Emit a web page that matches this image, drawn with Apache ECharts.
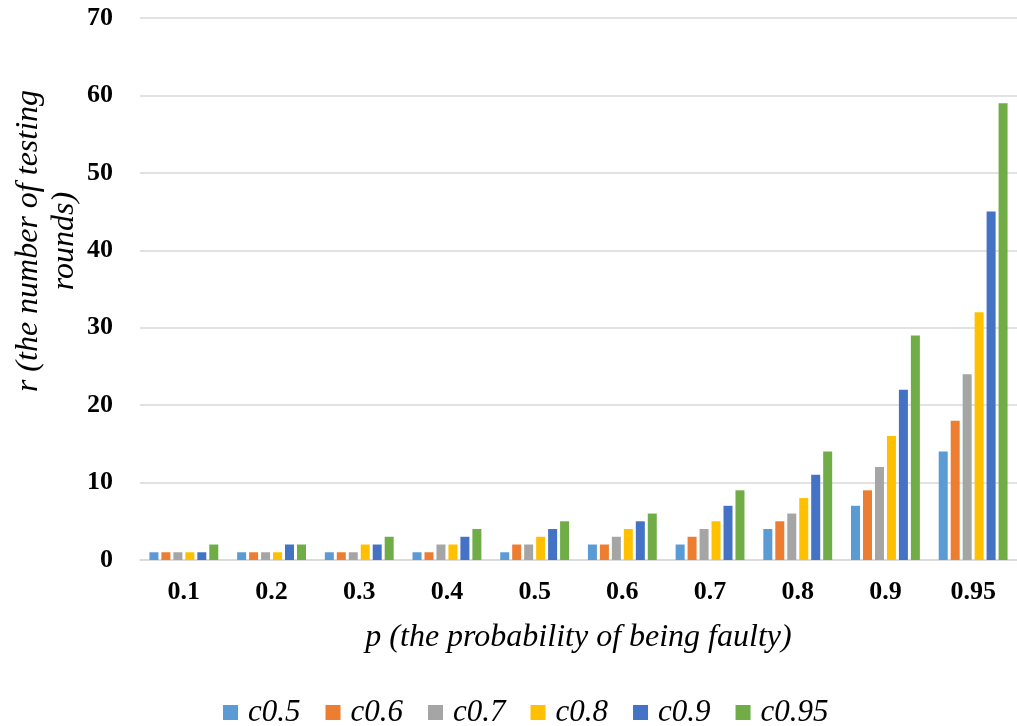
<!DOCTYPE html>
<html>
<head>
<meta charset="utf-8">
<script src="https://cdn.jsdelivr.net/npm/echarts@6/dist/echarts.min.js"></script>
<style>
  html, body { margin: 0; padding: 0; background: #ffffff; }
  #chart { width: 1017px; height: 726px; }
</style>
</head>
<body>
<div id="chart"></div>
<script>
// Probability of a node being faulty (x categories)
const categories = ['0.1', '0.2', '0.3', '0.4', '0.5', '0.6', '0.7', '0.8', '0.9', '0.95'];

// Required testing rounds for each confidence level
const c05  = [1, 1, 1, 1, 1, 2, 2, 4, 7, 14];
const c06  = [1, 1, 1, 1, 2, 2, 3, 5, 9, 18];
const c07  = [1, 1, 1, 2, 2, 3, 4, 6, 12, 24];
const c08  = [1, 1, 2, 2, 3, 4, 5, 8, 16, 32];
const c09  = [1, 2, 2, 3, 4, 5, 7, 11, 22, 45];
const c095 = [2, 2, 3, 4, 5, 6, 9, 14, 29, 59];

const seriesNames = ['c0.5', 'c0.6', 'c0.7', 'c0.8', 'c0.9', 'c0.95'];
const seriesData = [c05, c06, c07, c08, c09, c095];
const colors = ['#5B9BD5', '#ED7D31', '#A5A5A5', '#FFC000', '#4472C4', '#70AD47'];

const yTicks = { min: 0, max: 70, interval: 10 };

const serif = '"Times New Roman", "Liberation Serif", serif';

const chart = echarts.init(document.getElementById('chart'), null, { renderer: 'canvas' });

chart.setOption({
  animation: false,
  color: colors,
  grid: { left: 140, top: 18, width: 880, bottom: 166 },
  legend: {
    top: 692,
    left: 218,
    itemWidth: 15,
    itemHeight: 15,
    itemGap: 25,
    icon: 'rect',
    textStyle: { fontFamily: serif, fontStyle: 'italic', fontSize: 31, color: '#000', padding: [0, 0, 0, 5] },
    data: seriesNames
  },
  xAxis: {
    type: 'category',
    data: categories,
    name: 'p (the probability of being faulty)',
    nameLocation: 'middle',
    nameGap: 62,
    nameTextStyle: { fontFamily: serif, fontStyle: 'italic', fontSize: 32, color: '#000' },
    axisLine: { lineStyle: { color: '#d9d9d9', width: 1.5 } },
    axisTick: { show: false },
    axisLabel: { margin: 19, fontFamily: serif, fontWeight: 'bold', fontSize: 26, color: '#000' }
  },
  yAxis: {
    type: 'value',
    min: yTicks.min,
    max: yTicks.max,
    interval: yTicks.interval,
    axisLine: { show: false },
    axisTick: { show: false },
    axisLabel: { margin: 27, fontFamily: serif, fontWeight: 'bold', fontSize: 26, color: '#000' },
    splitLine: { lineStyle: { color: '#d9d9d9', width: 1.5 } }
  },
  graphic: [{
    type: 'text',
    x: 47,
    y: 241,
    rotation: Math.PI / 2,
    style: {
      text: 'r (the number of testing\nrounds)',
      fontFamily: serif,
      fontStyle: 'italic',
      fontSize: 32,
      lineHeight: 36,
      fill: '#000',
      align: 'center',
      verticalAlign: 'middle'
    }
  }],
  series: seriesNames.map((name, i) => ({
    name: name,
    type: 'bar',
    data: seriesData[i],
    barWidth: 9,
    barGap: '33%',
    itemStyle: { color: colors[i] }
  }))
});
</script>
</body>
</html>
